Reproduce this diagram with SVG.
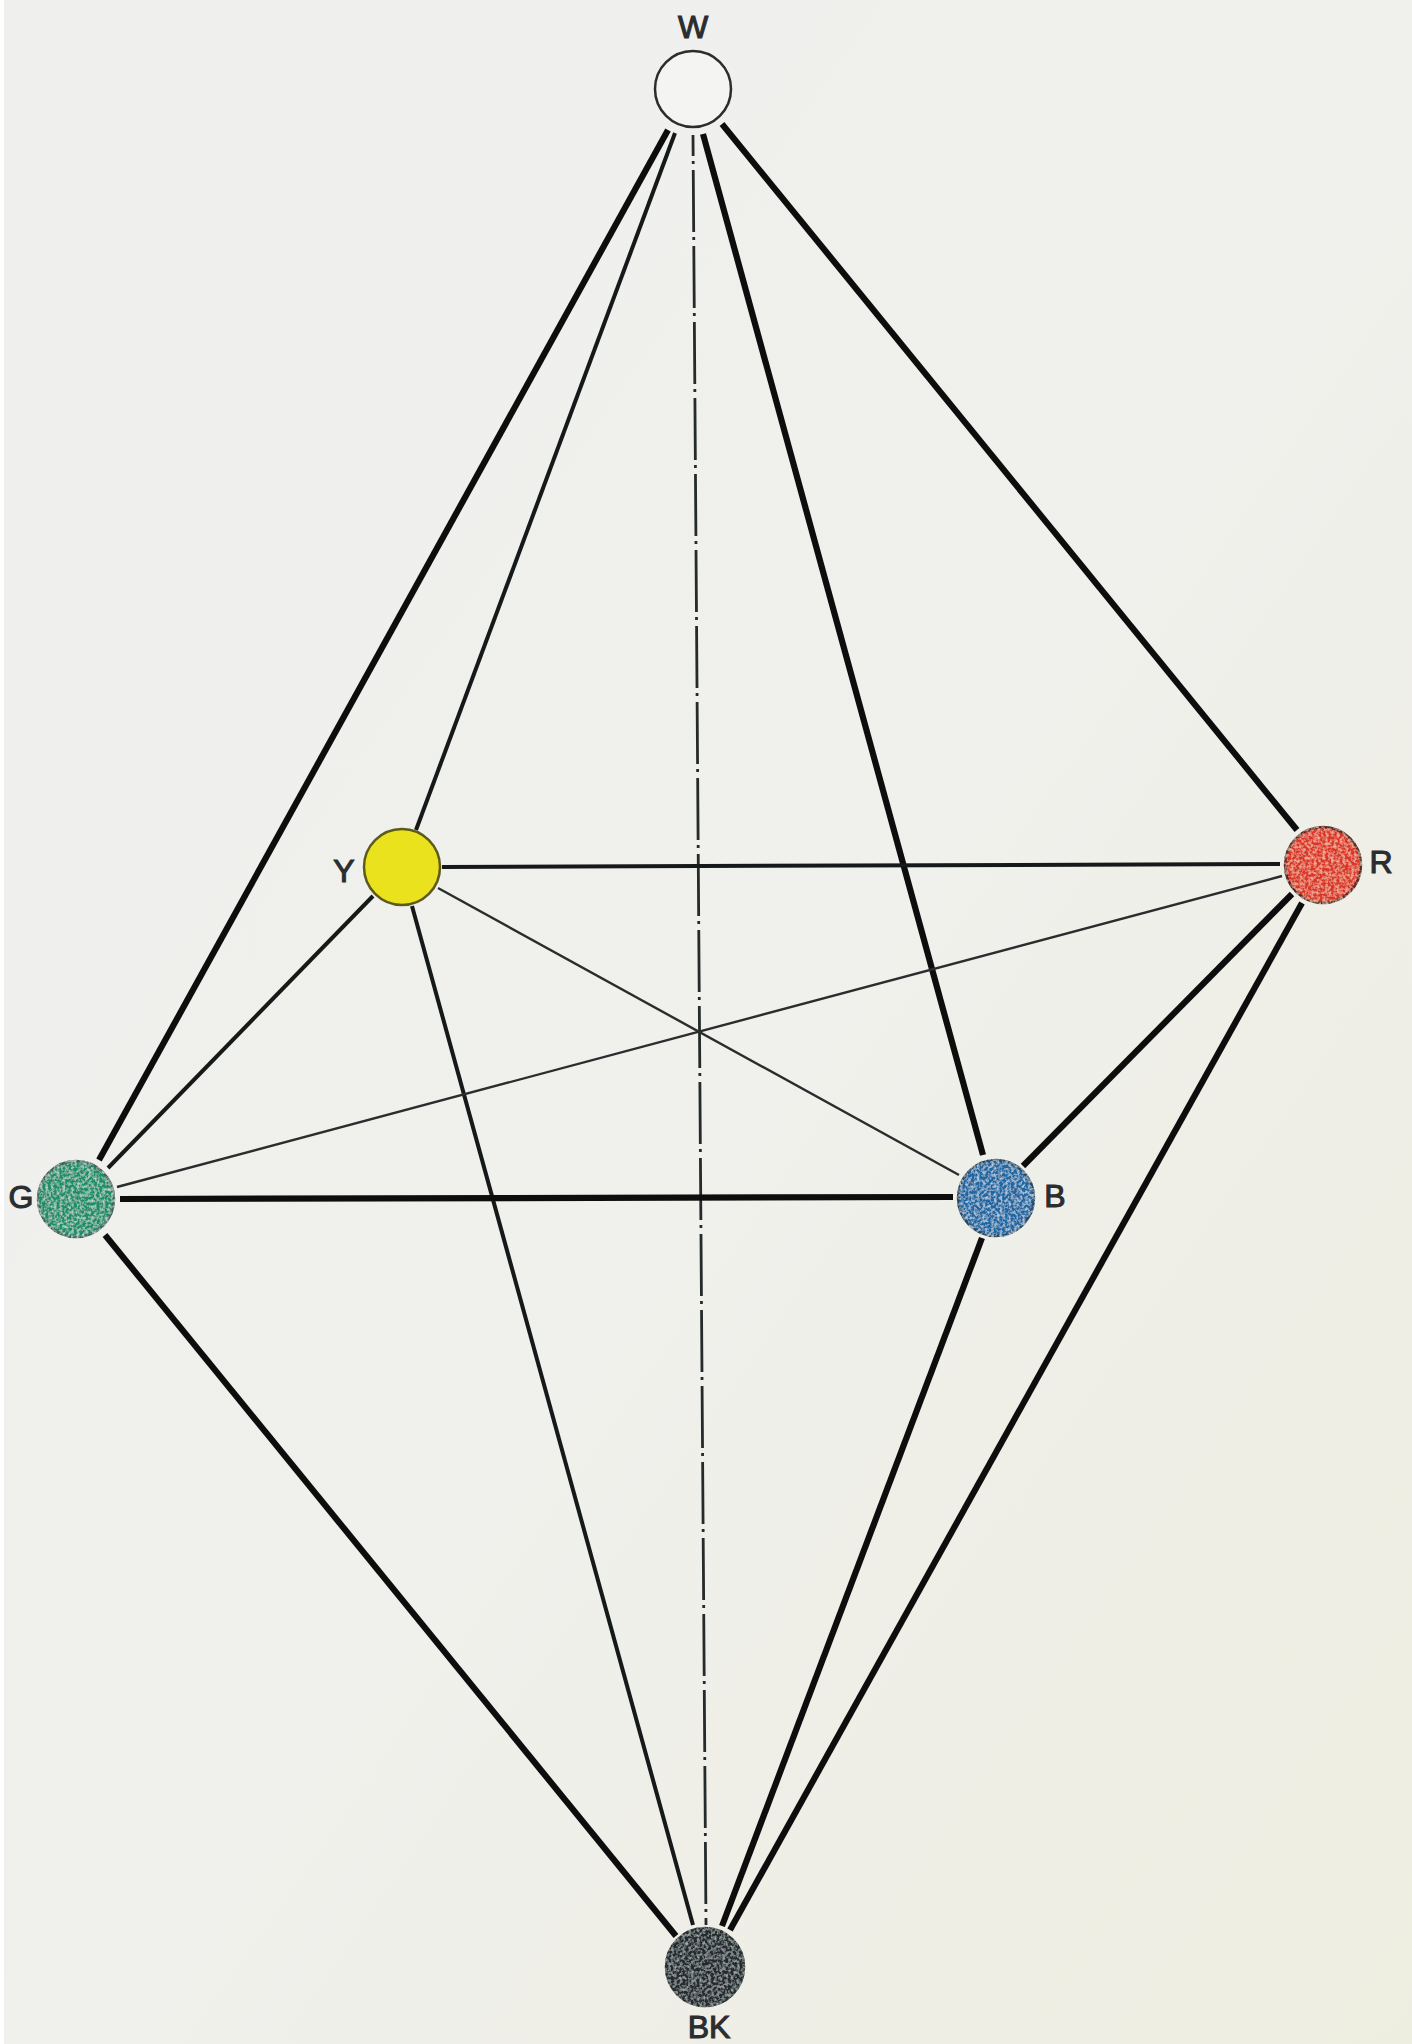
<svg xmlns="http://www.w3.org/2000/svg" width="1412" height="2044" viewBox="0 0 1412 2044">
<style>
.bg{fill:url(#paper)}
.thick{stroke:#0d0d0d;stroke-width:6.2;fill:none;stroke-linecap:butt}
.med{stroke:#161919;stroke-width:4;fill:none}
.thin{stroke:#2a2d2d;stroke-width:2.4;fill:none}
.axis{stroke:#252b2b;stroke-width:2.8;fill:none;stroke-dasharray:62 5 3 6;stroke-dashoffset:41}
.lbl{font-family:"Liberation Sans",Arial,sans-serif;font-size:32px;fill:#2b2d2f;stroke:#2b2d2f;stroke-width:1.1;text-anchor:middle}
.dot{stroke-width:2.5}
</style>
<defs>
<linearGradient id="paper" x1="0" y1="0" x2="1" y2="1">
<stop offset="0" stop-color="#efefee"/>
<stop offset=".55" stop-color="#f0f0ec"/>
<stop offset="1" stop-color="#edede0"/>
</linearGradient>
<filter id="speck" x="-5%" y="-5%" width="110%" height="110%">
<feTurbulence type="fractalNoise" baseFrequency=".35" numOctaves="2" seed="4" result="n"/>
<feColorMatrix in="n" type="matrix" values="0 0 0 0 .8  0 0 0 0 .95  0 0 0 0 .95  1.5 0 0 0 -.62" result="s"/>
<feGaussianBlur in="s" stdDeviation=".6" result="b"/>
<feComposite in="b" in2="SourceGraphic" operator="in" result="c"/>
<feMerge><feMergeNode in="SourceGraphic"/><feMergeNode in="c"/></feMerge>
</filter>
<filter id="speckRed" x="-5%" y="-5%" width="110%" height="110%">
<feTurbulence type="fractalNoise" baseFrequency=".35" numOctaves="2" seed="6" result="n"/>
<feColorMatrix in="n" type="matrix" values="0 0 0 0 1  0 0 0 0 .72  0 0 0 0 .55  1.5 0 0 0 -.6" result="s"/>
<feGaussianBlur in="s" stdDeviation=".6" result="b"/>
<feComposite in="b" in2="SourceGraphic" operator="in" result="c"/>
<feMerge><feMergeNode in="SourceGraphic"/><feMergeNode in="c"/></feMerge>
</filter>
<filter id="speckDark" x="-5%" y="-5%" width="110%" height="110%">
<feTurbulence type="fractalNoise" baseFrequency=".35" numOctaves="2" seed="9" result="n"/>
<feColorMatrix in="n" type="matrix" values="0 0 0 0 .5  0 0 0 0 .6  0 0 0 0 .6  1.6 0 0 0 -.66" result="s"/>
<feGaussianBlur in="s" stdDeviation=".6" result="b"/>
<feComposite in="b" in2="SourceGraphic" operator="in" result="c"/>
<feMerge><feMergeNode in="SourceGraphic"/><feMergeNode in="c"/></feMerge>
</filter>
</defs>
<rect class="bg" width="1412" height="2044"/>
<rect x="0" y="0" width="4" height="2044" fill="#fff"/>
<g id="connectors">
<line class="axis" x1="693" y1="135" x2="706" y2="1925"/>
<line class="thick" x1="668" y1="130" x2="99" y2="1160"/>
<line class="med" x1="675" y1="133" x2="416" y2="830"/>
<line class="thick" x1="703" y1="134" x2="983" y2="1155"/>
<line class="thick" x1="722" y1="124" x2="1297" y2="830"/>
<line class="med" x1="442" y1="867" x2="1280" y2="864"/>
<line class="med" x1="373" y1="896" x2="108" y2="1168"/>
<line class="thin" x1="438" y1="888" x2="959" y2="1175"/>
<line class="med" x1="412" y1="906" x2="693" y2="1925"/>
<line class="thin" x1="117" y1="1187" x2="1282" y2="876"/>
<line class="thick" x1="120" y1="1199" x2="953" y2="1197"/>
<line class="thick" x1="105" y1="1235" x2="676" y2="1936"/>
<line class="thick" x1="1023" y1="1166" x2="1292" y2="894"/>
<line class="thick" x1="982" y1="1238" x2="722" y2="1926"/>
<line class="thick" x1="1302" y1="903" x2="730" y2="1930"/>
</g>
<g id="node-W"><circle class="dot" cx="693" cy="89" r="38" fill="#f4f4f2" stroke="#2c2c2c"/><text class="lbl" x="693" y="38">W</text></g>
<g id="node-Y"><circle class="dot" cx="402" cy="867" r="38" fill="#ebe21e" stroke="#5d5a1c"/><text class="lbl" x="344" y="882">Y</text></g>
<g id="node-R"><circle class="dot" cx="1323" cy="865" r="38" fill="#db3526" stroke="#5b2a26" filter="url(#speckRed)"/><text class="lbl" x="1381" y="873">R</text></g>
<g id="node-G"><circle class="dot" cx="76" cy="1199" r="38" fill="#1f8f68" stroke="#42655a" filter="url(#speck)"/><text class="lbl" x="21" y="1208">G</text></g>
<g id="node-B"><circle class="dot" cx="996" cy="1198" r="38" fill="#1c68a4" stroke="#254868" filter="url(#speck)"/><text class="lbl" x="1055" y="1207">B</text></g>
<g id="node-BK"><circle class="dot" cx="705" cy="1967" r="39" fill="#262c2e" stroke="#2a2e30" filter="url(#speckDark)"/><text class="lbl" x="709" y="2038">BK</text></g>
</svg>
